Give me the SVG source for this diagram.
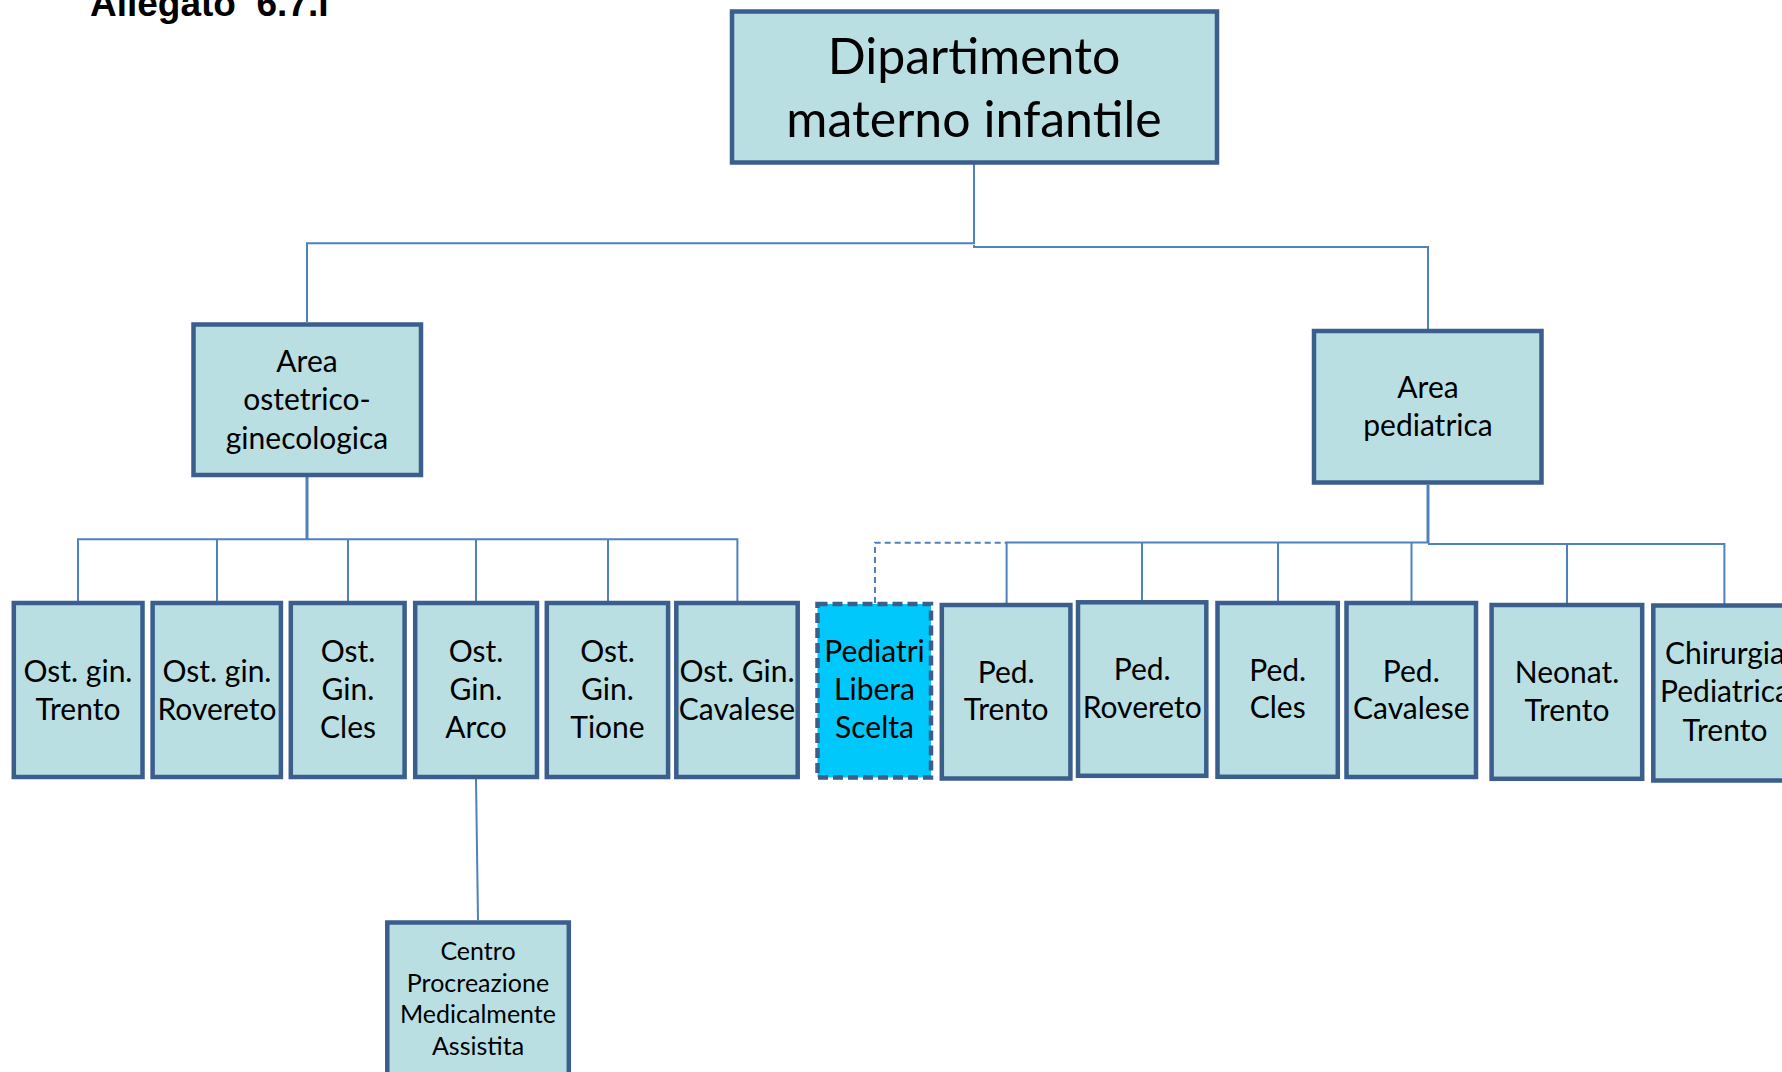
<svg xmlns="http://www.w3.org/2000/svg" width="1782" height="1072" viewBox="0 0 1782 1072">
<style>
.box{fill:#B9DFE3;stroke:#3B5E8C;stroke-width:4.5}
.dash{fill:#00C8FA;stroke:#3B5E8C;stroke-width:4.5;stroke-dasharray:10 5}
.c{fill:none;stroke:#4F81BD;stroke-width:2}
.ck{fill:none;stroke:#4F81BD;stroke-width:3}
.cd{fill:none;stroke:#4F81BD;stroke-width:2;stroke-dasharray:6 4}
.t{font-family:Lato,"Open Sans",sans-serif;text-anchor:middle;fill:#000}
.l{font-size:50px}
.m{font-size:30px}
.s{font-size:25px}
.title{font-family:"Liberation Sans",Arial,sans-serif;font-weight:bold;font-size:37px;fill:#000}
</style>
<rect width="1782" height="1072" fill="#fff"/>
<text class="title" x="90" y="16" xml:space="preserve">Allegato  6.7.I</text>
<g id="connectors">
<polyline class="c" points="974,164 974,243.3 307,243.3 307,322"/>
<polyline class="c" points="974,245 974,247 1428,247 1428,329"/>
<polyline class="ck" points="307,477 307,539.3"/>
<polyline class="c" points="78,601 78,539.3 737.4,539.3 737.4,601"/>
<line class="c" x1="217" y1="539.3" x2="217" y2="601"/>
<line class="c" x1="348" y1="539.3" x2="348" y2="601"/>
<line class="c" x1="476" y1="539.3" x2="476" y2="601"/>
<line class="c" x1="608" y1="539.3" x2="608" y2="601"/>
<polyline class="ck" points="1428,485 1428,543"/>
<polyline class="c" points="1006.6,603 1006.6,542.5 1428,542.5"/>
<polyline class="c" points="1428,544 1724.4,544 1724.4,604"/>
<line class="c" x1="1142" y1="542.5" x2="1142" y2="601"/>
<line class="c" x1="1278" y1="542.5" x2="1278" y2="601"/>
<line class="c" x1="1411.5" y1="542.5" x2="1411.5" y2="601"/>
<line class="c" x1="1567" y1="544" x2="1567" y2="603"/>
<polyline class="cd" points="875,603 875,542.7 1006.6,542.7"/>
<line class="c" x1="476" y1="779" x2="478" y2="920"/>
</g>
<g id="n-dip">
<rect class="box" x="732" y="11.5" width="485" height="151"/>
<text class="t l"><tspan x="974" y="74">Dipartimento</tspan><tspan x="974" y="137">materno infantile</tspan></text>
</g>
<g id="n-area-ost">
<rect class="box" x="193.5" y="324.5" width="227.5" height="150.5"/>
<text class="t m"><tspan x="307" y="371.5">Area</tspan><tspan x="307" y="410">ostetrico-</tspan><tspan x="307" y="448.5">ginecologica</tspan></text>
</g>
<g id="n-area-ped">
<rect class="box" x="1314" y="331" width="227.5" height="151.5"/>
<text class="t m"><tspan x="1428" y="397.5">Area</tspan><tspan x="1428" y="436">pediatrica</tspan></text>
</g>
<g id="n-ost-trento">
<rect class="box" x="13.8" y="603" width="128.7" height="174"/>
<text class="t m"><tspan x="78" y="682">Ost. gin.</tspan><tspan x="78" y="719.5">Trento</tspan></text>
</g>
<g id="n-ost-rovereto">
<rect class="box" x="152.6" y="603" width="128.3" height="174"/>
<text class="t m"><tspan x="217" y="682">Ost. gin.</tspan><tspan x="217" y="719.5">Rovereto</tspan></text>
</g>
<g id="n-ost-cles">
<rect class="box" x="290.8" y="603" width="113.8" height="174"/>
<text class="t m"><tspan x="348" y="662">Ost.</tspan><tspan x="348" y="700">Gin.</tspan><tspan x="348" y="738.3">Cles</tspan></text>
</g>
<g id="n-ost-arco">
<rect class="box" x="415.2" y="603" width="121.8" height="174"/>
<text class="t m"><tspan x="476" y="662">Ost.</tspan><tspan x="476" y="700">Gin.</tspan><tspan x="476" y="738.3">Arco</tspan></text>
</g>
<g id="n-ost-tione">
<rect class="box" x="546.8" y="603" width="121.3" height="174"/>
<text class="t m"><tspan x="607.5" y="662">Ost.</tspan><tspan x="607.5" y="700">Gin.</tspan><tspan x="607.5" y="738.3">Tione</tspan></text>
</g>
<g id="n-ost-cavalese">
<rect class="box" x="676.3" y="603" width="121.4" height="174"/>
<text class="t m"><tspan x="737" y="682">Ost. Gin.</tspan><tspan x="737" y="719.5">Cavalese</tspan></text>
</g>
<g id="n-pls">
<rect class="dash" x="817.5" y="604" width="113.5" height="173.5"/>
<text class="t m"><tspan x="874.5" y="662">Pediatri</tspan><tspan x="874.5" y="700">Libera</tspan><tspan x="874.5" y="738.3">Scelta</tspan></text>
</g>
<g id="n-ped-trento">
<rect class="box" x="941.8" y="605" width="128.6" height="173.5"/>
<text class="t m"><tspan x="1006.2" y="682.5">Ped.</tspan><tspan x="1006.2" y="720">Trento</tspan></text>
</g>
<g id="n-ped-rovereto">
<rect class="box" x="1078" y="602.3" width="128.3" height="173.5"/>
<text class="t m"><tspan x="1142.2" y="680">Ped.</tspan><tspan x="1142.2" y="717.5">Rovereto</tspan></text>
</g>
<g id="n-ped-cles">
<rect class="box" x="1217.5" y="603" width="120.3" height="173.8"/>
<text class="t m"><tspan x="1277.7" y="680.5">Ped.</tspan><tspan x="1277.7" y="718.3">Cles</tspan></text>
</g>
<g id="n-ped-cavalese">
<rect class="box" x="1346.5" y="603" width="129.5" height="174"/>
<text class="t m"><tspan x="1411.3" y="681.5">Ped.</tspan><tspan x="1411.3" y="719.3">Cavalese</tspan></text>
</g>
<g id="n-neonat">
<rect class="box" x="1491.6" y="605" width="150.6" height="173.8"/>
<text class="t m"><tspan x="1567" y="682.7">Neonat.</tspan><tspan x="1567" y="720.7">Trento</tspan></text>
</g>
<g id="n-chirurgia">
<rect class="box" x="1653.3" y="605.5" width="146" height="175"/>
<text class="t m"><tspan x="1725" y="664">Chirurgia</tspan><tspan x="1725" y="701.7">Pediatrica</tspan><tspan x="1725" y="740.5">Trento</tspan></text>
</g>
<g id="n-centro">
<rect class="box" x="387.3" y="922.5" width="181.5" height="170"/>
<text class="t s"><tspan x="478" y="960">Centro</tspan><tspan x="478" y="991.7">Procreazione</tspan><tspan x="478" y="1023.3">Medicalmente</tspan><tspan x="478" y="1055">Assistita</tspan></text>
</g>
</svg>
